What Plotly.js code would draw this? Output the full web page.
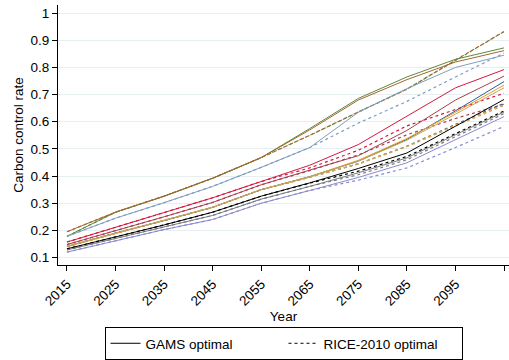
<!DOCTYPE html>
<html>
<head>
<meta charset="utf-8">
<script src="https://cdn.plot.ly/plotly-3.0.1.min.js"></script>
<style>html,body{margin:0;padding:0;background:#fff;}#chart{width:509px;height:360px;}</style>
</head>
<body>
<div id="chart"></div>
<script>
var years = [2015, 2025, 2035, 2045, 2055, 2065, 2075, 2085, 2095, 2105];
var xTicks = [2015, 2025, 2035, 2045, 2055, 2065, 2075, 2085, 2095, 2105];
var yTicks = [0.1, 0.2, 0.3, 0.4, 0.5, 0.6, 0.7, 0.8, 0.9, 1];

// GAMS optimal (solid)
var greenGams    = [0.178, 0.267, 0.326, 0.392, 0.468, 0.575, 0.686, 0.765, 0.830, 0.872];
var brownGams    = [0.195, 0.267, 0.326, 0.392, 0.468, 0.570, 0.680, 0.755, 0.820, 0.862];
var lblueGams    = [0.178, 0.245, 0.302, 0.362, 0.432, 0.505, 0.635, 0.722, 0.800, 0.845];
var redGams      = [0.157, 0.211, 0.266, 0.320, 0.380, 0.440, 0.516, 0.622, 0.725, 0.792];
var maroonGams   = [0.148, 0.198, 0.250, 0.303, 0.368, 0.422, 0.475, 0.568, 0.680, 0.768];
var navyGams     = [0.141, 0.190, 0.236, 0.285, 0.350, 0.398, 0.455, 0.535, 0.640, 0.748];
var orangeGams   = [0.140, 0.189, 0.236, 0.285, 0.350, 0.398, 0.458, 0.538, 0.635, 0.735];
var khakiGams    = [0.142, 0.190, 0.236, 0.285, 0.350, 0.396, 0.455, 0.532, 0.628, 0.725];
var blackGams    = [0.132, 0.176, 0.220, 0.267, 0.326, 0.375, 0.428, 0.485, 0.585, 0.682];
var grayGams     = [0.128, 0.170, 0.213, 0.255, 0.315, 0.362, 0.412, 0.467, 0.552, 0.636];
var lavGams      = [0.120, 0.161, 0.203, 0.240, 0.300, 0.347, 0.395, 0.449, 0.535, 0.619];

// RICE-2010 optimal (dashed)
var greenRice    = [0.178, 0.267, 0.326, 0.392, 0.468, 0.550, 0.636, 0.720, 0.826, 0.932];
var brownRice    = [0.195, 0.267, 0.326, 0.392, 0.468, 0.550, 0.636, 0.720, 0.827, 0.932];
var lblueRice    = [0.178, 0.245, 0.302, 0.362, 0.432, 0.505, 0.595, 0.675, 0.765, 0.853];
var redRice      = [0.157, 0.211, 0.266, 0.320, 0.380, 0.430, 0.495, 0.585, 0.645, 0.705];
var maroonRice   = [0.148, 0.198, 0.250, 0.303, 0.368, 0.420, 0.478, 0.552, 0.612, 0.665];
var navyRice     = [0.141, 0.190, 0.236, 0.285, 0.350, 0.396, 0.445, 0.510, 0.590, 0.668];
var orangeRice   = [0.140, 0.189, 0.236, 0.285, 0.350, 0.396, 0.445, 0.510, 0.588, 0.664];
var khakiRice    = [0.142, 0.190, 0.236, 0.285, 0.350, 0.396, 0.445, 0.508, 0.585, 0.660];
var blackRice    = [0.132, 0.176, 0.220, 0.267, 0.326, 0.374, 0.418, 0.472, 0.555, 0.640];
var grayRice     = [0.128, 0.170, 0.213, 0.255, 0.315, 0.362, 0.405, 0.460, 0.545, 0.630];
var lavRice      = [0.120, 0.161, 0.203, 0.240, 0.300, 0.347, 0.385, 0.430, 0.505, 0.583];

var series = [
  {g: greenGams,  r: greenRice,  c: '#5b8a3c'},
  {g: brownGams,  r: brownRice,  c: '#a8652e'},
  {g: lblueGams,  r: lblueRice,  c: '#7f9fc0'},
  {g: redGams,    r: redRice,    c: '#d6173f'},
  {g: maroonGams, r: maroonRice, c: '#a8404e'},
  {g: navyGams,   r: navyRice,   c: '#2a5c9a'},
  {g: orangeGams, r: orangeRice, c: '#e99a24'},
  {g: khakiGams,  r: khakiRice,  c: '#c4a862'},
  {g: blackGams,  r: blackRice,  c: '#000000'},
  {g: grayGams,   r: grayRice,   c: '#7a7a7a'},
  {g: lavGams,    r: lavRice,    c: '#8a8ad2'}
];

var traces = [];
series.forEach(function(s){
  traces.push({x: years, y: s.r, type: 'scatter', mode: 'lines', showlegend: false, hoverinfo: 'skip',
    line: {color: s.c, width: 1.2, dash: '3px,3px'}});
});
series.forEach(function(s){
  traces.push({x: years, y: s.g, type: 'scatter', mode: 'lines', showlegend: false, hoverinfo: 'skip',
    line: {color: s.c, width: 1}});
});
traces.push({x: [null], y: [null], type: 'scatter', mode: 'lines', name: 'GAMS optimal',
  line: {color: '#000', width: 1}});
traces.push({x: [null], y: [null], type: 'scatter', mode: 'lines', name: 'RICE-2010 optimal',
  line: {color: '#000', width: 1, dash: '3px,3px'}});

var layout = {
  width: 509, height: 360,
  margin: {l: 58, r: 0, t: 5, b: 87, pad: 0},
  paper_bgcolor: '#fff', plot_bgcolor: '#fff',
  font: {family: 'Liberation Sans, Arial, sans-serif', size: 13.5, color: '#000'},
  showlegend: true,
  legend: {orientation: 'h', x: 0.5, xanchor: 'center', xref: 'paper', y: -0.24, yanchor: 'top',
    bordercolor: '#000', borderwidth: 1, bgcolor: '#fff', font: {size: 13.5},
    entrywidth: 133, entrywidthmode: 'pixels', tracegroupgap: 0},
  xaxis: {
    range: [2013.15, 2106.03], tickvals: xTicks, ticktext: xTicks.map(String), tickangle: -45,
    showgrid: false, zeroline: false, showline: true, linecolor: '#000', linewidth: 1,
    ticks: 'outside', ticklen: 5, tickcolor: '#000', tickfont: {size: 13.5},
    title: {text: 'Year', font: {size: 13.5}, standoff: 3}
  },
  yaxis: {
    range: [0.0725, 1.03], tickvals: yTicks, ticktext: ['0.1','0.2','0.3','0.4','0.5','0.6','0.7','0.8','0.9','1'],
    showgrid: true, gridcolor: '#e6eef0', gridwidth: 1, zeroline: false, showline: true, linecolor: '#000', linewidth: 1,
    ticks: 'outside', ticklen: 5, tickcolor: '#000', tickfont: {size: 13.5},
    title: {text: 'Carbon control rate', font: {size: 13.5}, standoff: 3}
  }
};

Plotly.newPlot('chart', traces, layout, {staticPlot: true, displayModeBar: false});
</script>
</body>
</html>
